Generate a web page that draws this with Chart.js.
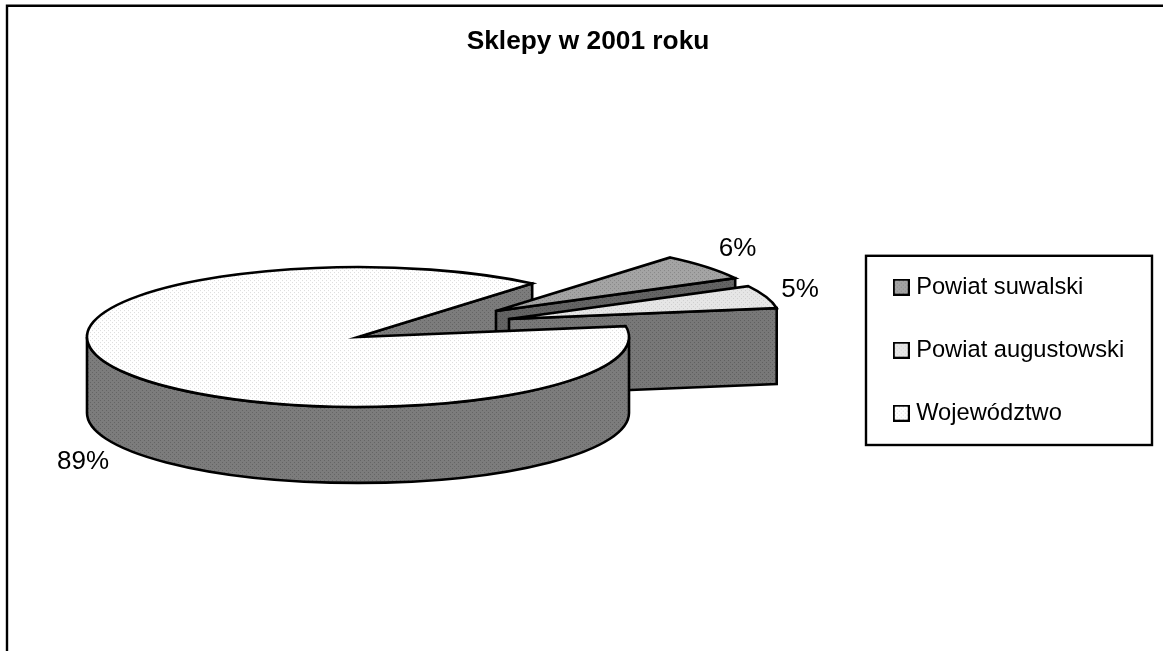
<!DOCTYPE html>
<html>
<head>
<meta charset="utf-8">
<title>Sklepy w 2001 roku</title>
<script src="https://cdn.jsdelivr.net/npm/chart.js@4/dist/chart.umd.js"></script>
<style>
  html, body { margin: 0; padding: 0; background: #fff; overflow: hidden; }
  #wrap { width: 1163px; height: 651px; }
</style>
</head>
<body>
<div id="wrap"><canvas id="chart" width="1163" height="651"></canvas></div>
<script>
const chartTitle = 'Sklepy w 2001 roku';
const categories = ['Powiat suwalski', 'Powiat augustowski', 'Województwo'];
const shares = [6.1, 5.3, 88.6];
const shareLabels = ['6%', '5%', '89%'];

// how the flat pie is turned into the tilted one
const SQUASH = 0.258;
const DEPTH = 76;
const EXPLODE = [[138, -26], [151, -18], [0, 0]];
const LABEL_SHIFT = [[31, -18], [34, -7], [-39, 14]];
const FONT = '"Liberation Sans", Arial, sans-serif';

// dotted fills, the original is a halftone print
function dotted(bg, dot, stretch) {
  const tile = document.createElement('canvas');
  tile.width = tile.height = 4;
  const t = tile.getContext('2d');
  t.fillStyle = bg;
  t.fillRect(0, 0, 4, 4);
  t.fillStyle = dot;
  t.fillRect(0, 0, 1, 1);
  t.fillRect(2, 2, 1, 1);
  const p = t.createPattern(tile, 'repeat');
  if (stretch) p.setTransform(new DOMMatrix().scale(1, 1 / SQUASH));
  return p;
}
const topBg = ['#a4a4a4', '#e6e6e6', '#ffffff'];
const topDot = ['#888888', '#cfcfcf', '#dcdcdc'];
const topFills = topBg.map((bg, i) => dotted(bg, topDot[i], true));
const wallFills = [
  dotted('#646464', '#505050'),
  dotted('#787878', '#606060'),
  dotted('#7c7c7c', '#646464')
];

function swatch(i) {
  const c = document.createElement('canvas');
  c.width = c.height = 17;
  const s = c.getContext('2d');
  s.fillStyle = dotted(topBg[i], topDot[i]);
  s.fillRect(0, 0, 17, 17);
  s.strokeStyle = '#000';
  s.lineWidth = 2;
  s.strokeRect(1, 1, 15, 15);
  return c;
}
const swatches = categories.map((c, i) => swatch(i));

const tiltedPie = {
  id: 'tiltedPie',
  afterLayout(chart) {
    // pie and legend sit where the original has them, not where the box layout puts them
    const a = chart.chartArea;
    a.left = 87; a.right = 629; a.top = 66; a.bottom = 608;
    a.width = 542; a.height = 542;
    const lg = chart.legend;
    lg.left = 859; lg.right = 1152; lg.top = 236; lg.bottom = 600;
  },
  beforeDraw(chart) {
    const ctx = chart.ctx;
    ctx.save();
    // page frame, runs off the right and bottom
    ctx.strokeStyle = '#000';
    ctx.lineWidth = 2.4;
    ctx.beginPath();
    ctx.moveTo(7, 660);
    ctx.lineTo(7, 5.8);
    ctx.lineTo(1170, 5.8);
    ctx.stroke();
    // legend frame
    ctx.strokeRect(866, 255.8, 286, 189.2);
    ctx.restore();
  },
  beforeDatasetDraw(chart, args) {
    const ctx = chart.ctx;
    const arcs = args.meta.data;
    const geo = arcs.map((arc, i) => ({
      arc,
      r: arc.outerRadius,
      ox: arc.x + EXPLODE[i][0],
      oy: arc.y + EXPLODE[i][1],
      a0: arc.startAngle,
      a1: arc.endAngle
    }));
    const px = (g, a) => g.ox + Math.cos(a) * g.r;
    const py = (g, a) => g.oy + Math.sin(a) * g.r * SQUASH;

    ctx.save();
    ctx.lineJoin = 'miter';
    ctx.strokeStyle = '#000';
    ctx.lineWidth = 2.6;

    const flat = (i) => {
      const g = geo[i];
      ctx.save();
      ctx.translate(g.ox, g.oy);
      ctx.scale(1, SQUASH);
      ctx.translate(-g.arc.x, -g.arc.y);
      g.arc.draw(ctx);
      ctx.restore();
      ctx.beginPath();
      ctx.moveTo(g.ox, g.oy);
      ctx.ellipse(g.ox, g.oy, g.r, g.r * SQUASH, 0, g.a0, g.a1);
      ctx.closePath();
      ctx.stroke();
    };
    // flat wall along one radial cut
    const cutWall = (i, a) => {
      const g = geo[i];
      ctx.beginPath();
      ctx.moveTo(g.ox, g.oy);
      ctx.lineTo(px(g, a), py(g, a));
      ctx.lineTo(px(g, a), py(g, a) + DEPTH);
      ctx.lineTo(g.ox, g.oy + DEPTH);
      ctx.closePath();
      ctx.fillStyle = wallFills[i];
      ctx.fill();
      ctx.stroke();
    };
    // rim of the big slice, only the part facing us
    const rimWall = (i) => {
      const g = geo[i];
      const from = Math.max(g.a0, 0);
      const to = Math.min(g.a1, Math.PI);
      ctx.beginPath();
      ctx.ellipse(g.ox, g.oy, g.r, g.r * SQUASH, 0, from, to);
      ctx.ellipse(g.ox, g.oy + DEPTH, g.r, g.r * SQUASH, 0, to, from, true);
      ctx.closePath();
      ctx.fillStyle = wallFills[i];
      ctx.fill();
      ctx.stroke();
    };

    // far to near: cut of the big slice, the two small slices, then the big slice
    cutWall(2, geo[2].a1);
    cutWall(0, geo[0].a1);
    flat(0);
    cutWall(1, geo[1].a1);
    flat(1);
    rimWall(2);
    flat(2);

    // percentage labels
    ctx.fillStyle = '#000';
    ctx.font = '26px ' + FONT;
    ctx.textAlign = 'center';
    ctx.textBaseline = 'middle';
    geo.forEach((g, i) => {
      const mid = (g.a0 + g.a1) / 2;
      const d = Math.sin(mid) > 0 ? DEPTH : 0;
      ctx.fillText(shareLabels[i], px(g, mid) + LABEL_SHIFT[i][0], py(g, mid) + d + LABEL_SHIFT[i][1]);
    });
    ctx.restore();
    return false;
  }
};

new Chart(document.getElementById('chart'), {
  type: 'pie',
  data: {
    labels: categories,
    datasets: [{
      data: shares,
      backgroundColor: topFills,
      borderWidth: 0
    }]
  },
  options: {
    responsive: false,
    animation: false,
    rotation: 40,
    layout: { padding: { left: 13, right: 0, top: 0, bottom: 0 } },
    plugins: {
      tooltip: { enabled: false },
      title: {
        display: true,
        text: chartTitle,
        color: '#000',
        font: { family: FONT, size: 26.3, weight: 'bold', lineHeight: 1.2 },
        padding: { top: 26, bottom: 4 }
      },
      legend: {
        position: 'right',
        align: 'start',
        labels: {
          color: '#000',
          font: { family: FONT, size: 23.7 },
          padding: 39.3,
          usePointStyle: true,
          pointStyleWidth: 6,
          generateLabels(chart) {
            return Chart.overrides.doughnut.plugins.legend.labels.generateLabels(chart)
              .map((item, i) => Object.assign(item, { pointStyle: swatches[i] }));
          }
        }
      }
    }
  },
  plugins: [tiltedPie]
});
</script>
</body>
</html>
